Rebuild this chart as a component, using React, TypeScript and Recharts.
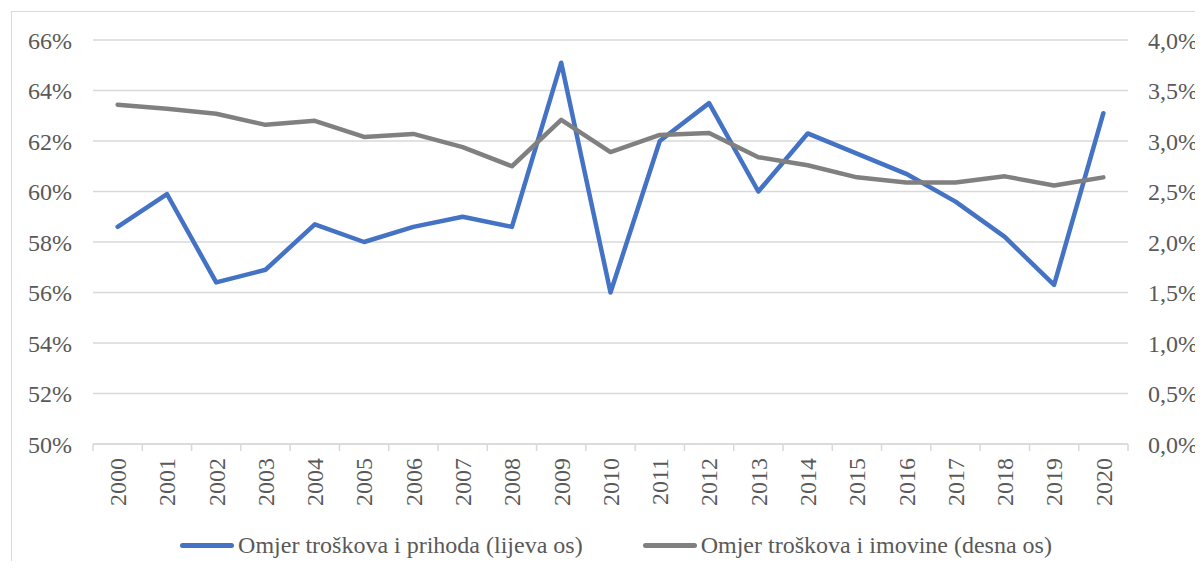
import React from 'react';
import { LineChart, Line, XAxis, YAxis, CartesianGrid, Legend } from 'recharts';

const years = ['2000','2001','2002','2003','2004','2005','2006','2007','2008','2009','2010','2011','2012','2013','2014','2015','2016','2017','2018','2019','2020'];
const costIncome = [58.6, 59.9, 56.4, 56.9, 58.7, 58.0, 58.6, 59.0, 58.6, 65.1, 56.0, 62.0, 63.5, 60.0, 62.3, 61.5, 60.7, 59.6, 58.2, 56.3, 63.1];
const costAssets = [3.36, 3.32, 3.27, 3.16, 3.20, 3.04, 3.07, 2.94, 2.75, 3.21, 2.89, 3.06, 3.08, 2.84, 2.76, 2.64, 2.59, 2.59, 2.65, 2.56, 2.64];
const leftTicks = [50, 52, 54, 56, 58, 60, 62, 64, 66];
const rightTicks = [0, 0.5, 1, 1.5, 2, 2.5, 3, 3.5, 4];
const seriesNames = ['Omjer troškova i prihoda (lijeva os)', 'Omjer troškova i imovine (desna os)'];
const seriesColors = ['#4472C4', '#808080'];

const data = years.map((y, i) => ({ year: y, ci: costIncome[i], ca: costAssets[i] }));

const FONT = '"Liberation Serif", "Times New Roman", Times, serif';
const TEXT = '#595959';
const GRID = '#D9D9D9';

function XTick(props: any) {
  const { x, y, payload, index } = props;
  const half = payload && payload.offset ? payload.offset : 24.64;
  const isLast = index === years.length - 1;
  return (
    <g transform={`translate(${x},${y})`}>
      <line x1={-half} x2={-half} y1={0} y2={7} stroke={GRID} strokeWidth={1.5} />
      {isLast && <line x1={half} x2={half} y1={0} y2={7} stroke={GRID} strokeWidth={1.5} />}
      <text transform="rotate(-90)" x={-14} y={0} dy="0.35em" textAnchor="end" fill={TEXT} fontSize={24} fontFamily={FONT}>
        {payload.value}
      </text>
    </g>
  );
}

function LegendContent() {
  return (
    <div style={{ height: 30, display: 'flex', justifyContent: 'center', alignItems: 'center', fontFamily: FONT, fontSize: 24, color: TEXT, paddingLeft: 18, whiteSpace: 'nowrap' }}>
      {seriesNames.map((n, i) => (
        <div key={n} style={{ display: 'flex', alignItems: 'center', marginRight: i === 0 ? 60 : 0 }}>
          <span style={{ display: 'inline-block', width: 54, height: 5, borderRadius: 3, background: seriesColors[i], marginRight: 4 }} />
          <span>{n}</span>
        </div>
      ))}
    </div>
  );
}

export default function App() {
  return (
    <div style={{ position: 'relative', left: 3, top: 3, width: 1192, height: 553, overflow: 'hidden' }}>
      <div style={{ width: 1210, height: 600, border: `1px solid ${GRID}`, boxSizing: 'border-box', background: '#fff' }}>
        <LineChart width={1190} height={552} data={data} margin={{ top: 28, right: 0, left: 0, bottom: 4 }}>
          <CartesianGrid yAxisId="left" vertical={false} stroke={GRID} strokeWidth={1.5} />
          <XAxis
            dataKey="year"
            scale="band"
            height={86}
            interval={0}
            tickLine={false}
            tickSize={0}
            tickMargin={0}
            axisLine={{ stroke: GRID, strokeWidth: 1.5 }}
            tick={<XTick />}
          />
          <YAxis
            yAxisId="left"
            width={81}
            domain={[50, 66]}
            ticks={leftTicks}
            axisLine={false}
            tickLine={false}
            tickSize={0}
            tickMargin={21}
            tickFormatter={(v: number) => `${v}%`}
            tick={{ fill: TEXT, fontSize: 24, fontFamily: FONT }}
          />
          <YAxis
            yAxisId="right"
            orientation="right"
            width={74}
            domain={[0, 4]}
            ticks={rightTicks}
            axisLine={false}
            tickLine={false}
            tickSize={0}
            tickMargin={20}
            tickFormatter={(v: number) => `${v.toFixed(1).replace('.', ',')}%`}
            tick={{ fill: TEXT, fontSize: 24, fontFamily: FONT, textAnchor: 'start' }}
          />
          <Legend verticalAlign="bottom" content={<LegendContent />} />
          <Line yAxisId="left" type="linear" dataKey="ci" name={seriesNames[0]} stroke={seriesColors[0]} strokeWidth={4.5} dot={false} strokeLinejoin="round" strokeLinecap="round" isAnimationActive={false} />
          <Line yAxisId="right" type="linear" dataKey="ca" name={seriesNames[1]} stroke={seriesColors[1]} strokeWidth={4.5} dot={false} strokeLinejoin="round" strokeLinecap="round" isAnimationActive={false} />
        </LineChart>
      </div>
    </div>
  );
}
